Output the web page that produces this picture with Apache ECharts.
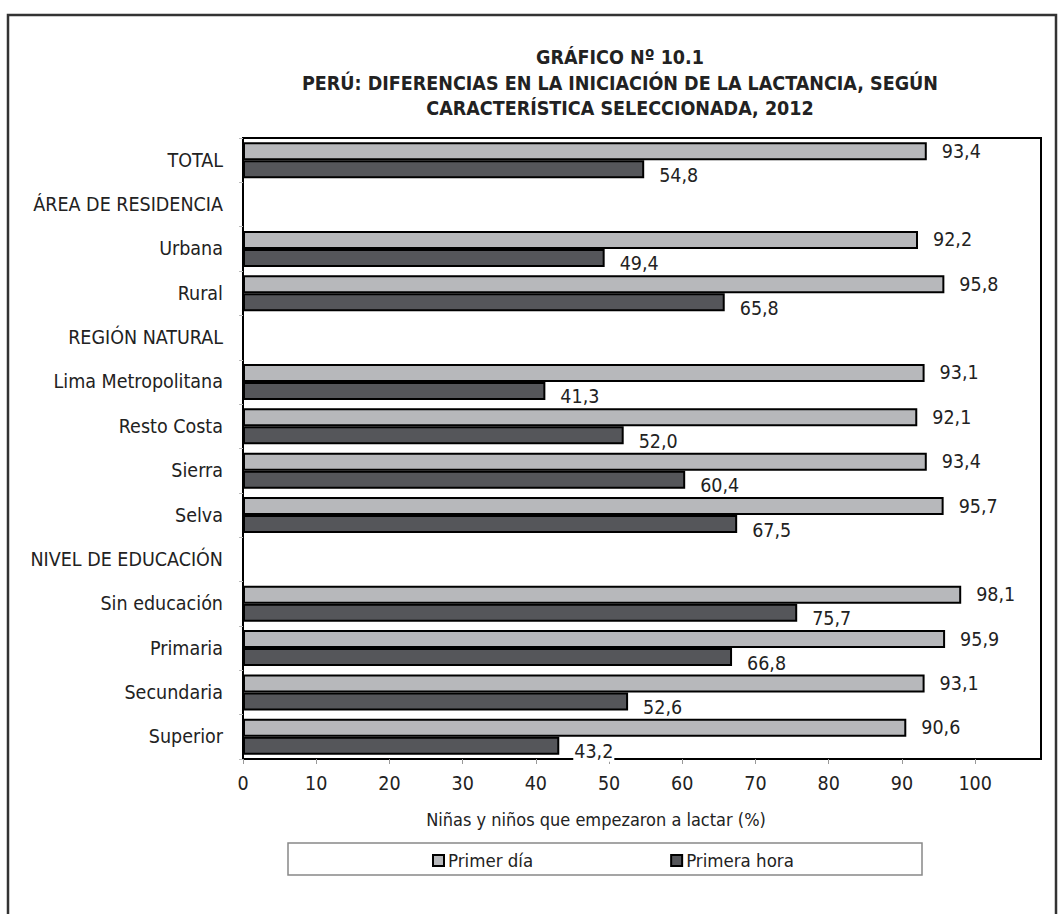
<!DOCTYPE html>
<html>
<head>
<meta charset="utf-8">
<script src="https://cdn.jsdelivr.net/npm/echarts@6/dist/echarts.min.js"></script>
<style>
  html, body { margin: 0; padding: 0; background: #fff; }
  #chart { width: 1064px; height: 914px; }
</style>
</head>
<body>
<div id="chart"></div>
<script>
// Gráfico 10.1 - iniciación de la lactancia

var chart = echarts.init(document.getElementById('chart'), null, {renderer: 'svg'});

var FONT = '"Liberation Sans Narrow", "Arial Narrow", "DejaVu Sans Condensed", sans-serif';

var categorias = [
    'TOTAL', 'ÁREA DE RESIDENCIA', 'Urbana', 'Rural', 'REGIÓN NATURAL',
    'Lima Metropolitana', 'Resto Costa', 'Sierra', 'Selva', 'NIVEL DE EDUCACIÓN',
    'Sin educación', 'Primaria', 'Secundaria', 'Superior'
];
var primerDia = [93.4, '-', 92.2, 95.8, '-', 93.1, 92.1, 93.4, 95.7, '-', 98.1, 95.9, 93.1, 90.6];
var primeraHora = [54.8, '-', 49.4, 65.8, '-', 41.3, 52.0, 60.4, 67.5, '-', 75.7, 66.8, 52.6, 43.2];
var ticksX = [0, 10, 20, 30, 40, 50, 60, 70, 80, 90, 100];

function fmt(p) {
    return p.value.toFixed(1).replace('.', ',');
}

option = {
    backgroundColor: '#fff',
    animation: false,
    title: {
        text: 'GRÁFICO Nº 10.1\nPERÚ: DIFERENCIAS EN LA INICIACIÓN DE LA LACTANCIA, SEGÚN\nCARACTERÍSTICA SELECCIONADA, 2012',
        left: 620,
        top: 45,
        padding: 0,
        textAlign: 'center',
        textStyle: {
            fontFamily: FONT,
            fontSize: 19.5,
            fontWeight: 'bold',
            lineHeight: 25.5,
            color: '#222'
        }
    },
    legend: {
        left: 432,
        top: 851,
        padding: 0,
        itemWidth: 11,
        itemHeight: 11,
        itemGap: 137,
        icon: 'rect',
        textStyle: {fontFamily: FONT, fontSize: 18.5, color: '#222', padding: [0, 0, 0, -1]},
        data: ['Primer día', 'Primera hora']
    },
    grid: {
        left: 243,
        top: 138,
        right: 23,
        bottom: 155,
        show: true,
        borderColor: '#000',
        borderWidth: 2
    },
    xAxis: {
        type: 'value',
        min: 0,
        max: 109,
        interval: 10,
        splitLine: {show: false},
        axisLine: {show: true, lineStyle: {color: '#000', width: 2}},
        axisTick: {show: true, length: 5, lineStyle: {color: '#999'}, customValues: ticksX},
        axisLabel: {
            customValues: ticksX,
            margin: 14,
            fontFamily: FONT,
            fontSize: 19.5,
            color: '#222'
        }
    },
    yAxis: {
        type: 'category',
        inverse: true,
        data: categorias,
        axisLine: {show: true, lineStyle: {color: '#000', width: 2}},
        axisTick: {show: true, length: 4, lineStyle: {color: '#bbb'}},
        axisLabel: {
            margin: 20,
            fontFamily: FONT,
            fontSize: 19.5,
            color: '#222'
        }
    },
    series: [
        {
            name: 'Primer día',
            type: 'bar',
            data: primerDia,
            barWidth: 18,
            barGap: '0%',
            itemStyle: {color: '#b7b8bb', borderColor: '#000', borderWidth: 2},
            label: {
                show: true,
                position: 'right',
                distance: 15,
                formatter: fmt,
                fontFamily: FONT,
                fontSize: 19.5,
                color: '#222'
            }
        },
        {
            name: 'Primera hora',
            type: 'bar',
            data: primeraHora,
            barWidth: 18,
            barGap: '0%',
            itemStyle: {color: '#55565a', borderColor: '#000', borderWidth: 2},
            label: {
                show: true,
                position: 'right',
                distance: 14,
                offset: [0, 6],
                formatter: fmt,
                fontFamily: FONT,
                fontSize: 19.5,
                color: '#222',
                backgroundColor: '#fff',
                padding: [0, 1]
            }
        }
    ],
    graphic: [
        {
            type: 'rect',
            shape: {x: 8, y: 15, width: 1048, height: 930},
            style: {fill: 'none', stroke: '#333', lineWidth: 2.5},
            silent: true
        },
        {
            type: 'rect',
            shape: {x: 288, y: 843, width: 634, height: 32},
            style: {fill: 'none', stroke: '#888', lineWidth: 1.5},
            silent: true
        },
        {
            type: 'text',
            style: {
                text: 'Niñas y niños que empezaron a lactar (%)',
                x: 596,
                y: 819,
                textAlign: 'center',
                textVerticalAlign: 'middle',
                font: '18px ' + FONT,
                fill: '#222'
            }
        }
    ]
};
chart.setOption(option);
</script>
</body>
</html>
